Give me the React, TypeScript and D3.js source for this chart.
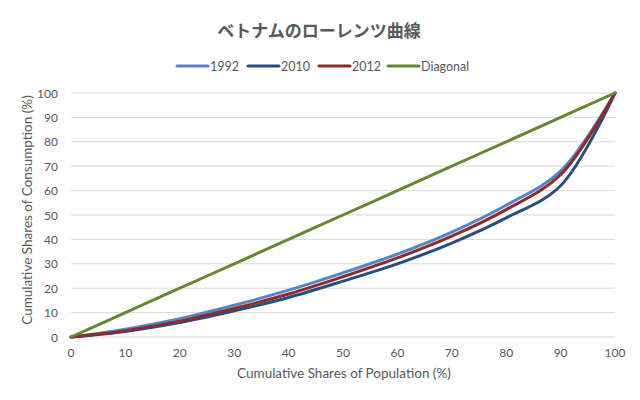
import React from "react";
import * as d3 from "d3";

const population = [0, 10, 20, 30, 40, 50, 60, 70, 80, 90, 100];
const share1992 = [0, 3.2, 7.5, 13.0, 19.2, 26.3, 34.0, 43.0, 54.0, 68.0, 100];
const share2010 = [0, 2.3, 5.9, 10.7, 16.2, 22.9, 30.0, 38.5, 48.8, 62.0, 100];
const share2012 = [0, 2.6, 6.5, 11.7, 17.6, 24.7, 32.4, 41.3, 52.2, 66.5, 100];
const diagonal = [0, 10, 20, 30, 40, 50, 60, 70, 80, 90, 100];
const tickValues = [0, 10, 20, 30, 40, 50, 60, 70, 80, 90, 100];

const seriesNames = ["1992", "2010", "2012", "Diagonal"];
const seriesColors = ["#5585C4", "#264E7E", "#8B2B2B", "#67862F"];
const seriesData = [share1992, share2010, share2012, diagonal];

const W = 640;
const H = 400;
const font = "Lato, 'Open Sans', 'Noto Sans', sans-serif";

export default function App() {
  const x = d3.scaleLinear().domain([0, 100]).range([71, 615]);
  const y = d3.scaleLinear().domain([0, 100]).range([337, 93]);
  const line = d3
    .line<number>()
    .x((_, i) => x(population[i]))
    .y((d) => y(d))
    .curve(d3.curveCatmullRom.alpha(0.5));

  const legendX = [177, 248, 319, 388];

  return (
    <svg
      width={W}
      height={H}
      style={{ position: "absolute", left: 0, top: 0, background: "#fff" }}
      fontFamily={font}
    >
      <rect x={0} y={0} width={W} height={H} fill="#fff" />
      <text
        x={319}
        y={37}
        textAnchor="middle"
        fontSize={17}
        fontWeight="bold"
        fill="#595959"
        fontFamily="'Noto Sans CJK JP', sans-serif"
      >
        ベトナムのローレンツ曲線
      </text>

      {seriesNames.map((n, i) => (
        <g key={n}>
          <line
            x1={legendX[i]}
            x2={legendX[i] + 31}
            y1={66}
            y2={66}
            stroke={seriesColors[i]}
            strokeWidth={3}
            strokeLinecap="round"
          />
          <text x={legendX[i] + 33} y={70.5} fontSize={12.5} fill="#595959">
            {n}
          </text>
        </g>
      ))}

      {tickValues.map((t) => (
        <g key={"gy" + t}>
          <line x1={71} x2={615} y1={y(t)} y2={y(t)} stroke="#d9d9d9" strokeWidth={1} />
          <text x={58} y={y(t) + 4.5} textAnchor="end" fontSize={12} fill="#595959">
            {t}
          </text>
        </g>
      ))}
      {tickValues.map((t) => (
        <text key={"gx" + t} x={x(t)} y={357} textAnchor="middle" fontSize={12} fill="#595959">
          {t}
        </text>
      ))}

      <text x={344} y={378} textAnchor="middle" fontSize={13.5} fill="#595959">
        Cumulative Shares of Population (%)
      </text>
      <text
        transform={`translate(32,210) rotate(-90)`}
        textAnchor="middle"
        fontSize={13.5}
        fill="#595959"
      >
        Cumulative Shares of Consumption (%)
      </text>

      {seriesData.map((d, i) => (
        <path
          key={seriesNames[i]}
          d={line(d) || ""}
          fill="none"
          stroke={seriesColors[i]}
          strokeWidth={3}
          strokeLinejoin="round"
          strokeLinecap="round"
        />
      ))}
    </svg>
  );
}
